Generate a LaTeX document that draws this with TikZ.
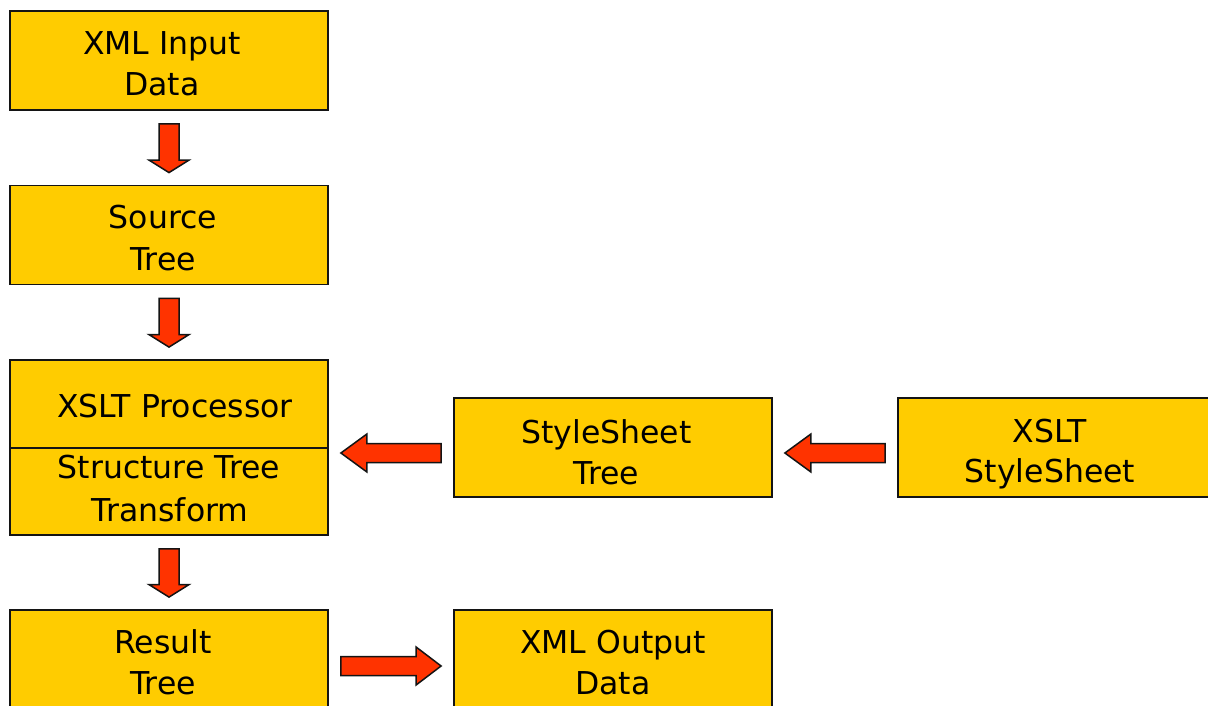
\documentclass[tikz,border=0pt]{standalone}
\usepackage{fontspec}
\setmainfont{DejaVu Sans}
\usetikzlibrary{calc}

\definecolor{boxfill}{HTML}{FFCC00}
\definecolor{arrowfill}{HTML}{FF3300}
\definecolor{edge}{HTML}{141414}

\tikzset{
  box/.style={rectangle, draw=edge, line width=1.8pt, fill=boxfill,
    minimum width=318pt, inner sep=0pt},
  txt/.style={anchor=base, inner sep=0pt, font=\fontsize{31.5}{37}\selectfont},
  barrow/.style={fill=arrowfill, draw=edge, line width=1.5pt, line join=miter},
}

% block arrow pointing down, from the bottom of #1 to the top of #2
\newcommand\flowdown[2]{%
  \draw[barrow] let \p1=($(#1.south)+(0,-13pt)$), \p2=($(#2.north)+(0,12pt)$) in
    (\x1-10pt,\y1) -- (\x1+10pt,\y1) -- (\x1+10pt,\y2+12.5pt) -- (\x1+20pt,\y2+12.5pt)
    -- (\x1,\y2) -- (\x1-20pt,\y2+12.5pt) -- (\x1-10pt,\y2+12.5pt) -- cycle;}

% block arrow pointing left, from the west side of #1 to the east side of #2
\newcommand\flowleft[2]{%
  \draw[barrow] let \p1=($(#1.west)+(-12pt,-5.5pt)$), \p2=($(#2.east)+(12pt,0)$) in
    (\x1,\y1+9.5pt) -- (\x2+26pt,\y1+9.5pt) -- (\x2+26pt,\y1+19pt) -- (\x2,\y1)
    -- (\x2+26pt,\y1-19pt) -- (\x2+26pt,\y1-9.5pt) -- (\x1,\y1-9.5pt) -- cycle;}

% block arrow pointing right, from the east side of #1 to the west side of #2
\newcommand\flowright[2]{%
  \draw[barrow] let \p1=($(#1.east)+(12pt,-6pt)$), \p2=($(#2.west)+(-12pt,0)$) in
    (\x1,\y1+9.5pt) -- (\x2-25pt,\y1+9.5pt) -- (\x2-25pt,\y1+19pt) -- (\x2,\y1)
    -- (\x2-25pt,\y1-19pt) -- (\x2-25pt,\y1-9.5pt) -- (\x1,\y1-9.5pt) -- cycle;}

\begin{document}
\begin{tikzpicture}[x=1pt, y=-1pt]
  \useasboundingbox (0,0) rectangle (1208,706);
  \clip (0,0) rectangle (1208,706);

  % boxes
  \node[box, minimum height=99pt]  (in)   at (169,60.5)  {};
  \node[box, minimum height=99pt]  (src)  at (169,235)   {};
  \node[box, minimum height=175pt] (proc) at (169,447.5) {};
  \node[box, minimum height=99pt]  (sst)  at (613,447.5) {};
  \node[box, minimum height=99pt]  (xss)  at (1057,447.5) {};
  \node[box, minimum height=100pt] (res)  at (169,660)   {};
  \node[box, minimum height=100pt] (out)  at (613,660)   {};

  % divider inside the processor box
  \draw[draw=edge, line width=1.8pt] ($(proc.west)+(0,-0.5pt)$) -- ($(proc.east)+(0,-0.5pt)$);

  % labels
  \node[txt] (in1)   at (162,55)  {XML Input};
  \node[txt] (in2)   at (162,96)  {Data};
  \node[txt] (src1)  at (163,228) {Source};
  \node[txt] (src2)  at (163,270) {Tree};
  \node[txt] (proc1) at (175,417) {XSLT Processor};
  \node[txt] (proc2) at (169,478) {Structure Tree};
  \node[txt] (proc3) at (170,521) {Transform};
  \node[txt] (sst1)  at (606.5,443) {StyleSheet};
  \node[txt] (sst2)  at (606.5,484) {Tree};
  \node[txt] (xss1)  at (1050,442) {XSLT};
  \node[txt] (xss2)  at (1050,482) {StyleSheet};
  \node[txt] (res1)  at (163,653) {Result};
  \node[txt] (res2)  at (163,694) {Tree};
  \node[txt] (out1)  at (613,653) {XML Output};
  \node[txt] (out2)  at (613,694) {Data};

  % connectors
  \flowdown{in}{src}
  \flowdown{src}{proc}
  \flowdown{proc}{res}
  \flowleft{sst}{proc}
  \flowleft{xss}{sst}
  \flowright{res}{out}
\end{tikzpicture}
\end{document}
